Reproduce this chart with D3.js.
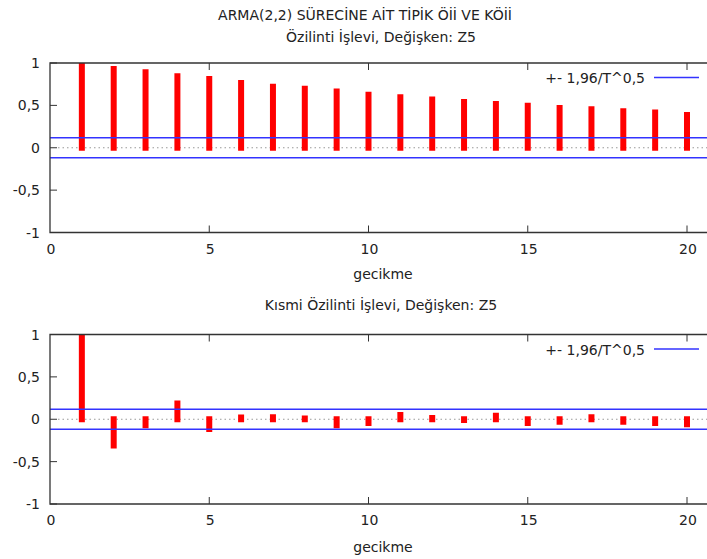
<!DOCTYPE html>
<html>
<head>
<meta charset="utf-8">
<script src="https://cdn.jsdelivr.net/npm/d3@7"></script>
<style>
  body { margin: 0; background: #fff; }
  svg { display: block; font-family: "DejaVu Sans", sans-serif; }
</style>
</head>
<body>
<script>
(function(window, document, d3) {
  var W = 707, H = 559;

  // lags 1..20
  var LAGS = d3.range(1, 21);
  var ACF = [0.97, 0.93, 0.89, 0.845, 0.81, 0.765, 0.72, 0.695, 0.665, 0.625,
             0.595, 0.57, 0.54, 0.515, 0.495, 0.47, 0.455, 0.43, 0.415, 0.385];
  var PACF = [0.97, -0.31, -0.07, 0.185, -0.115, 0.02, 0.025, 0.01, -0.07, -0.045,
              0.05, 0.015, -0.01, 0.04, -0.045, -0.03, 0.025, -0.03, -0.045, -0.06];
  var BAND = 0.118; // 1.96 / sqrt(T)
  var X_TICKS = [0, 5, 10, 15, 20];
  var Y_TICKS = [1, 0.5, 0, -0.5, -1];

  var TITLE = "ARMA(2,2) SÜRECİNE AİT TİPİK Öİİ VE KÖİİ";
  var PANELS = [
    {title: "Özilinti İşlevi, Değişken: Z5", values: ACF, top: 63, bottom: 232.5, titleY: 42, labelY: 279},
    {title: "Kısmi Özilinti İşlevi, Değişken: Z5", values: PACF, top: 334.5, bottom: 504, titleY: 310, labelY: 552}
  ];

  var svg = d3.select("body").append("svg")
    .attr("width", W)
    .attr("height", H);

  svg.append("text")
    .attr("x", 365).attr("y", 19.5)
    .attr("text-anchor", "middle")
    .attr("font-size", 14)
    .attr("fill", "#222")
    .text(TITLE);

  var x = d3.scaleLinear().domain([0, 21]).range([50, 50 + 21 * 31.85]);
  var fmt = function(v) { return String(v).replace(".", ","); };

  function drawPanel(p, n) {
    var y = d3.scaleLinear().domain([-1, 1]).range([p.bottom, p.top]);
    var g = svg.append("g");

    g.append("clipPath").attr("id", "clip" + n)
      .append("rect")
      .attr("x", x(0)).attr("y", p.top)
      .attr("width", W - x(0)).attr("height", p.bottom - p.top);

    // subtitle
    g.append("text")
      .attr("x", 381).attr("y", p.titleY)
      .attr("text-anchor", "middle")
      .attr("font-size", 14).attr("fill", "#222")
      .text(p.title);

    // zero line (dotted)
    g.append("line")
      .attr("x1", x(0) + 8).attr("x2", W)
      .attr("y1", y(0)).attr("y2", y(0))
      .attr("stroke", "#999").attr("stroke-width", 1)
      .attr("stroke-dasharray", "1.5,3");

    // bars
    g.append("g").attr("clip-path", "url(#clip" + n + ")")
      .selectAll("line")
      .data(LAGS)
      .enter().append("line")
      .attr("x1", function(d) { return x(d); })
      .attr("x2", function(d) { return x(d); })
      .attr("y1", y(0))
      .attr("y2", function(d, i) { return y(p.values[i]); })
      .attr("stroke", "#ff0000")
      .attr("stroke-width", 6)
      .attr("stroke-linecap", "square");

    // confidence band
    g.selectAll("line.band")
      .data([BAND, -BAND])
      .enter().append("line")
      .attr("class", "band")
      .attr("x1", x(0)).attr("x2", W)
      .attr("y1", function(d) { return y(d); })
      .attr("y2", function(d) { return y(d); })
      .attr("stroke", "#3333ff").attr("stroke-width", 1.3);

    // frame
    g.append("path")
      .attr("d", "M" + W + "," + p.top + "H" + x(0) + "V" + p.bottom + "H" + W)
      .attr("fill", "none").attr("stroke", "#333").attr("stroke-width", 1.3);

    // y ticks (inside)
    var yt = g.append("g");
    yt.selectAll("line")
      .data(Y_TICKS)
      .enter().append("line")
      .attr("x1", x(0)).attr("x2", x(0) + 7)
      .attr("y1", function(d) { return y(d); })
      .attr("y2", function(d) { return y(d); })
      .attr("stroke", "#333");
    yt.selectAll("text")
      .data(Y_TICKS)
      .enter().append("text")
      .attr("x", 40)
      .attr("y", function(d) { return y(d) + 5; })
      .attr("text-anchor", "end")
      .attr("font-size", 14).attr("fill", "#222")
      .text(fmt);

    // x ticks on bottom and top (mirrored, inside)
    var xt = g.append("g");
    xt.selectAll("line.b")
      .data(X_TICKS.slice(1))
      .enter().append("line")
      .attr("class", "b")
      .attr("x1", function(d) { return x(d); })
      .attr("x2", function(d) { return x(d); })
      .attr("y1", p.bottom).attr("y2", p.bottom - 7)
      .attr("stroke", "#333");
    xt.selectAll("line.t")
      .data(X_TICKS.slice(1))
      .enter().append("line")
      .attr("class", "t")
      .attr("x1", function(d) { return x(d); })
      .attr("x2", function(d) { return x(d); })
      .attr("y1", p.top).attr("y2", p.top + 7)
      .attr("stroke", "#333");
    xt.selectAll("text")
      .data(X_TICKS)
      .enter().append("text")
      .attr("x", function(d) { return x(d) + 1; })
      .attr("y", p.bottom + 21)
      .attr("text-anchor", "middle")
      .attr("font-size", 14).attr("fill", "#222")
      .text(fmt);

    // axis label
    g.append("text")
      .attr("x", 383).attr("y", p.labelY)
      .attr("text-anchor", "middle")
      .attr("font-size", 14).attr("fill", "#222")
      .text("gecikme");

    // legend
    g.append("text")
      .attr("x", 645).attr("y", p.top + 20)
      .attr("text-anchor", "end")
      .attr("font-size", 14).attr("fill", "#222")
      .text("+- 1,96/T^0,5");
    g.append("line")
      .attr("x1", 654).attr("x2", 699)
      .attr("y1", p.top + 14.5).attr("y2", p.top + 14.5)
      .attr("stroke", "#3333ff").attr("stroke-width", 1.3);
  }

  PANELS.forEach(drawPanel);

}).call(this, window, document, d3);
</script>
</body>
</html>
